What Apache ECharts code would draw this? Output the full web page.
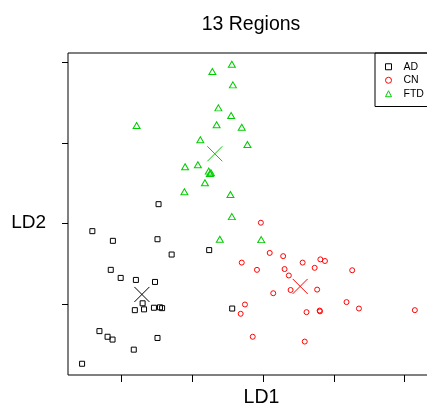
<!DOCTYPE html>
<html>
<head>
<meta charset="utf-8">
<title>13 Regions</title>
<script src="https://cdn.jsdelivr.net/npm/echarts@6/dist/echarts.min.js"></script>
<style>
  html, body { margin: 0; padding: 0; background: #fff; }
  #chart { width: 427px; height: 407px; }
</style>
</head>
<body>
<div id="chart"></div>
<script>
// LD scores (LD1, LD2)
const adPoints = [
  [-2.95, 0.48], [-4.82, -0.19], [-4.24, -0.43], [-2.98, -0.39], [-1.52, -0.66],
  [-2.58, -0.77], [-4.30, -1.15], [-4.02, -1.35], [-3.59, -1.40], [-3.05, -1.45],
  [-3.40, -1.98], [-3.08, -2.09], [-2.91, -2.08], [-2.85, -2.10], [-3.62, -2.15],
  [-3.36, -2.13], [-0.87, -2.11], [-4.62, -2.67], [-4.39, -2.81], [-4.25, -2.88],
  [-2.98, -2.84], [-3.65, -3.13], [-5.11, -3.48]
];
const cnPoints = [
  [-0.06, 0.02], [0.19, -0.73], [0.57, -0.81], [-0.60, -0.97], [1.12, -0.97],
  [1.62, -0.89], [1.75, -0.93], [-0.17, -1.15], [0.61, -1.13], [1.46, -1.10],
  [2.52, -1.16], [0.73, -1.29], [0.78, -1.65], [1.53, -1.64], [0.29, -1.73],
  [2.36, -1.95], [2.71, -2.11], [4.29, -2.15], [-0.51, -2.01], [-0.63, -2.24],
  [1.23, -2.20], [1.60, -2.16], [1.61, -2.18], [-0.29, -2.81], [1.18, -2.93]
];
const ftdPoints = [
  [-0.88, 3.95], [-1.43, 3.77], [-0.85, 3.44], [-1.26, 2.87], [-0.90, 2.68],
  [-3.57, 2.43], [-1.31, 2.45], [-0.60, 2.39], [-0.44, 1.96], [-1.77, 2.08],
  [-1.84, 1.46], [-2.20, 1.41], [-1.53, 1.30], [-1.47, 1.26], [-1.50, 1.24],
  [-1.64, 1.01], [-2.22, 0.79], [-0.92, 0.72], [-0.88, 0.17], [-1.22, -0.39],
  [-0.05, -0.40]
];
// group means, drawn as big crosses
const adCentroid = [-3.42, -1.76];
const cnCentroid = [1.05, -1.56];
const ftdCentroid = [-1.36, 1.73];

const groupNames = ['AD', 'CN', 'FTD'];
const xTicks = [-4, -2, 0, 2, 4];
const yTicks = [-2, 0, 2, 4];

const crossPath = 'path://M0,0L10,10M10,0L0,10';

function groupSeries(name, pts, centroid, symbol, size, color) {
  const data = pts.map(p => ({ value: p }));
  data.push({
    value: centroid,
    symbol: crossPath,
    symbolSize: 15,
    itemStyle: { color: 'none', borderColor: color, borderWidth: 1 }
  });
  return {
    name: name,
    type: 'scatter',
    symbol: symbol,
    symbolSize: size,
    itemStyle: { color: 'none', borderColor: color, borderWidth: 1, opacity: 1 },
    emphasis: { disabled: true },
    data: data
  };
}

const myChart = echarts.init(document.getElementById('chart'));
myChart.setOption({
  animation: false,
  textStyle: { fontFamily: 'Liberation Sans, Arial, sans-serif' },
  title: {
    text: '13 Regions',
    left: 246,
    top: 10,
    textAlign: 'center',
    textStyle: { color: '#000', fontSize: 19.5, fontWeight: 'normal' }
  },
  legend: {
    orient: 'vertical',
    left: 375,
    top: 53,
    padding: [8, 40, 7, 8],
    itemWidth: 6,
    itemHeight: 6,
    itemGap: 2,
    borderColor: '#000',
    borderWidth: 1,
    borderRadius: 0,
    selectedMode: false,
    textStyle: { color: '#000', fontSize: 10.5, lineHeight: 11.5, padding: [0, 0, 0, 7] },
    data: [
      { name: groupNames[0], icon: 'rect', itemStyle: { color: 'none', borderColor: '#000', borderWidth: 1 } },
      { name: groupNames[1], icon: 'circle', itemStyle: { color: 'none', borderColor: '#ff0000', borderWidth: 1 } },
      { name: groupNames[2], icon: 'triangle', itemStyle: { color: 'none', borderColor: '#00cd00', borderWidth: 1 } }
    ]
  },
  grid: {
    show: true,
    left: 68,
    top: 53,
    width: 387,
    height: 322,
    borderColor: '#000',
    borderWidth: 1,
    outerBoundsMode: 'none',
    containLabel: false
  },
  xAxis: {
    type: 'value',
    min: -5.508,
    max: 5.424,
    name: 'LD1',
    nameLocation: 'middle',
    nameGap: 13,
    nameTextStyle: { color: '#000', fontSize: 19.5 },
    axisLine: { show: false, onZero: false },
    axisTick: { show: true, inside: false, length: 7, customValues: xTicks, lineStyle: { color: '#000' } },
    axisLabel: { show: false },
    splitLine: { show: false }
  },
  yAxis: {
    type: 'value',
    min: -3.759,
    max: 4.231,
    name: 'LD2',
    nameLocation: 'middle',
    nameRotate: 0,
    nameGap: 22,
    nameTextStyle: { color: '#000', fontSize: 19, verticalAlign: 'top', lineHeight: 17 },
    axisLine: { show: false, onZero: false },
    axisTick: { show: true, inside: false, length: 6, customValues: yTicks, lineStyle: { color: '#000' } },
    axisLabel: { show: false },
    splitLine: { show: false }
  },
  series: [
    groupSeries(groupNames[0], adPoints, adCentroid, 'rect', 5, '#000'),
    groupSeries(groupNames[1], cnPoints, cnCentroid, 'circle', 5, '#ff0000'),
    groupSeries(groupNames[2], ftdPoints, ftdCentroid, 'triangle', [7, 6], '#00cd00')
  ]
});
</script>
</body>
</html>
